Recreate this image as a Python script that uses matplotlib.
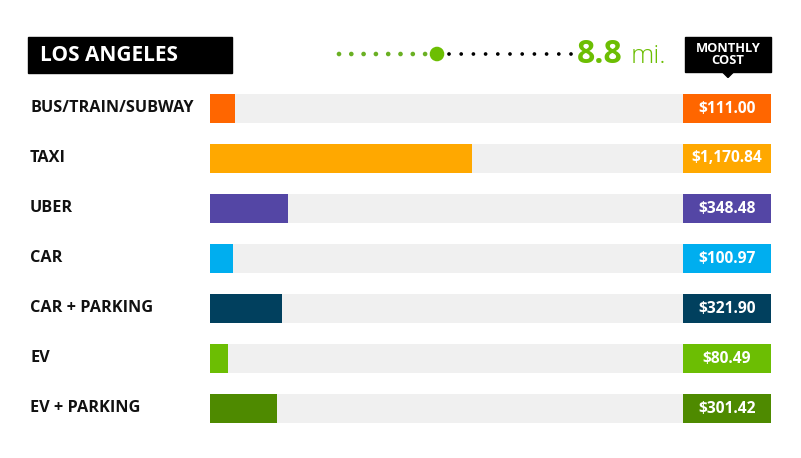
import matplotlib
matplotlib.use("Agg")
import matplotlib.pyplot as plt
from matplotlib.patches import Rectangle, Polygon

# ---- data ----
city = "LOS ANGELES"
distance_mi = "8.8"
categories = ["BUS/TRAIN/SUBWAY", "TAXI", "UBER", "CAR", "CAR + PARKING", "EV", "EV + PARKING"]
costs = [111.00, 1170.84, 348.48, 100.97, 321.90, 80.49, 301.42]
cost_labels = ["$111.00", "$1,170.84", "$348.48", "$100.97", "$321.90", "$80.49", "$301.42"]
colors = ["#FF6600", "#FFA800", "#5446A5", "#00AEEF", "#01405E", "#6CBE03", "#4E8A00"]
scale_max = 2115.0  # value at the end of the grey track

W, H = 801, 458
FONT = "Open Sans"
fig = plt.figure(figsize=(W / 100, H / 100), dpi=100)
fig.patch.set_facecolor("white")

def fx(px):
    return px / W

def fy(py):
    return 1 - py / H

# ---- bar axes ----
row0_top = 83.5
row_h = 50
n = len(categories)
ax = fig.add_axes([fx(210), fy(row0_top + row_h * n), fx(683) - fx(210), fy(row0_top) - fy(row0_top + row_h * n)])
ax.set_xlim(0, scale_max)
ax.set_ylim(n - 0.5, -0.5)
ax.axis("off")
ys = list(range(n))
ax.barh(ys, [scale_max] * n, height=0.58, color="#F0F0F0", left=0)
ax.barh(ys, costs, height=0.58, color=colors)

# ---- value boxes ----
axv = fig.add_axes([fx(683), fy(row0_top + row_h * n), fx(771) - fx(683), fy(row0_top) - fy(row0_top + row_h * n)])
axv.set_xlim(0, 1)
axv.set_ylim(n - 0.5, -0.5)
axv.axis("off")
axv.barh(ys, [1] * n, height=0.58, color=colors)
for y, lab in zip(ys, cost_labels):
    axv.text(0.5, y, lab, ha="center", va="center", color="white", fontsize=11.2,
             fontweight="bold", family=FONT)

# ---- category labels ----
for i, cat in enumerate(categories):
    fig.text(fx(30), fy(row0_top + row_h * i + 25), cat, ha="left", va="center",
             fontsize=11.7, fontweight="bold", family=FONT, color="#111111")

# ---- city title box ----
fig.patches.append(Rectangle((fx(28), fy(73)), fx(232) - fx(28), fy(37) - fy(73),
                             transform=fig.transFigure, color="black"))
fig.text(fx(40), fy(55.5), city, ha="left", va="center", color="white",
         fontsize=15, fontweight="bold", family=FONT)

# ---- monthly cost box ----
fig.patches.append(Rectangle((fx(685), fy(72)), fx(771) - fx(685), fy(37) - fy(72),
                             transform=fig.transFigure, color="black"))
fig.patches.append(Polygon([(fx(722), fy(71.5)), (fx(734), fy(71.5)), (fx(728), fy(77.5))],
                           closed=True, transform=fig.transFigure, color="black"))
fig.text(fx(728), fy(55), "MONTHLY\nCOST", ha="center", va="center", color="white",
         fontsize=9.3, fontweight="bold", family=FONT, linespacing=0.9)

# ---- distance dots ----
green = "#6AB023"
gx = [339 + 12.3 * k for k in range(8)]
bx = [449 + 12.2 * k for k in range(11)]
dot_y = 54
axd = fig.add_axes([0, 0, 1, 1], facecolor="none")
axd.set_xlim(0, W)
axd.set_ylim(H, 0)
axd.axis("off")
axd.scatter(gx, [dot_y] * len(gx), s=11, color=green, edgecolors="none")
axd.scatter([437], [dot_y], s=110, color="#6CBE03", edgecolors="none")
axd.scatter(bx, [dot_y] * len(bx), s=7, color="black", edgecolors="none")
axd.text(577, 63, distance_mi, ha="left", va="baseline", color="#6CBE03",
         fontsize=23, fontweight="bold", family=FONT)
axd.text(631, 63, "mi.", ha="left", va="baseline", color="#6CBE03",
         fontsize=19, fontweight="light", family=FONT)

fig.savefig("out.png", dpi=100, facecolor="white")
